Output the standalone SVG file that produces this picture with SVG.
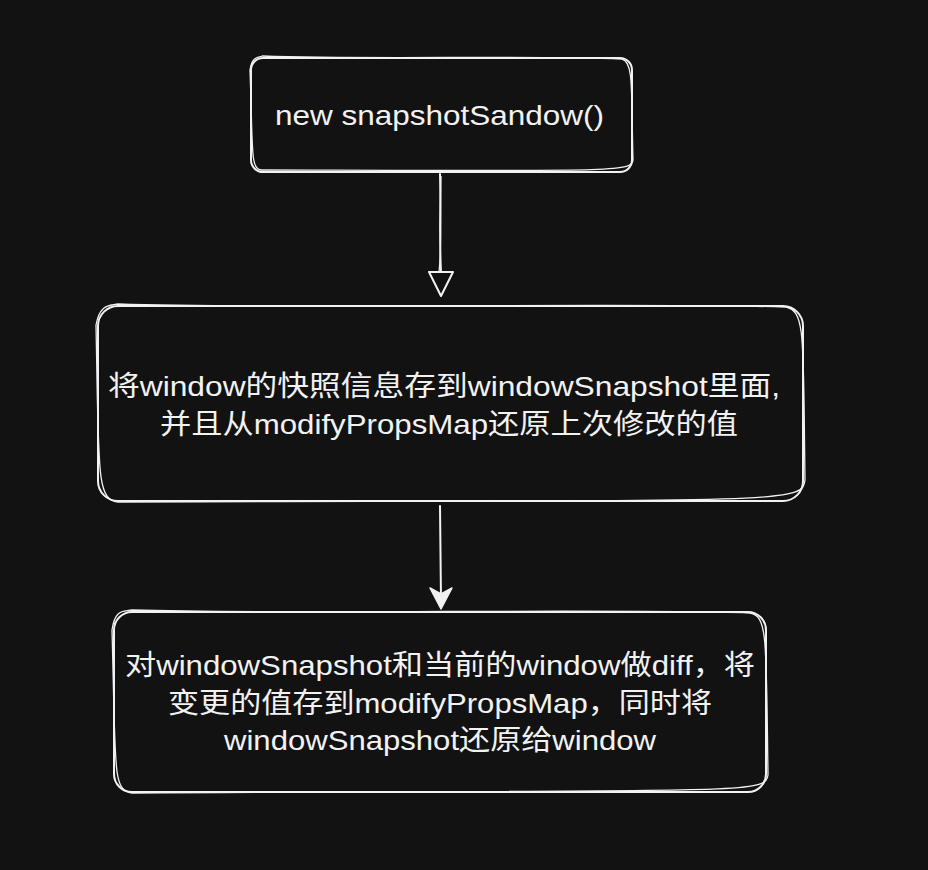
<svg xmlns="http://www.w3.org/2000/svg" width="928" height="870" viewBox="0 0 928 870">
<defs>
<style>
.bg{fill:#121212}
.box{fill:#121212;stroke:#f2f2f2;stroke-width:2}
.sk{fill:none;stroke:#f2f2f2;stroke-width:1.3}
.ln{fill:none;stroke:#f2f2f2;stroke-width:2;stroke-linecap:round}
.t{fill:#f2f2f2;font-family:"Liberation Sans","Noto Sans CJK SC",sans-serif;font-size:28px;text-anchor:middle}
</style>
</defs>
<rect class="bg" x="0" y="0" width="928" height="870"/>
<g id="connectors">
<path class="ln" d="M440 174 C441 210 439 230 441 272"/>
<path class="sk" d="M441 176 C440 215 442 245 439 272"/>
<polygon fill="none" stroke="#f2f2f2" stroke-width="2" stroke-linejoin="round" points="429,272 453,272 441,296"/>
<path class="ln" d="M440 506 L441 600"/>
<polygon fill="#f2f2f2" stroke="#f2f2f2" stroke-width="1.5" stroke-linejoin="round" points="430,588 441,594 452,588 441,609"/>
</g>
<g id="node1">
<rect class="box" x="251" y="58" width="381" height="114" rx="12"/>
<path class="sk" d="M262 56 C380 60 520 55 622 59 C634 62 631 90 633 160 C632 172 620 171 262 170 C250 171 253 150 250 70 C252 56 258 58 262 56"/>
<text class="t" x="439.5" y="125" textLength="329" lengthAdjust="spacingAndGlyphs">new  snapshotSandow()</text>
</g>
<g id="node2">
<rect class="box" x="98" y="306" width="705" height="195" rx="20"/>
<path class="sk" d="M118 304 C300 310 600 302 786 307 C806 311 803 340 805 480 C802 504 790 500 118 502 C96 500 99 470 96 325 C100 303 110 306 118 304"/>
<text class="t" x="444" y="396" textLength="672" lengthAdjust="spacingAndGlyphs">将window的快照信息存到windowSnapshot里面,</text>
<text class="t" x="449" y="434" textLength="578" lengthAdjust="spacingAndGlyphs">并且从modifyPropsMap还原上次修改的值</text>
</g>
<g id="node3">
<rect class="box" x="114" y="612" width="652" height="180" rx="18"/>
<path class="sk" d="M132 610 C300 615 600 608 750 613 C768 616 766 640 768 775 C765 794 752 790 132 793 C112 790 116 770 112 630 C115 608 124 612 132 610"/>
<text class="t" x="440" y="675" textLength="630" lengthAdjust="spacingAndGlyphs">对windowSnapshot和当前的window做diff，将</text>
<text class="t" x="440" y="713" textLength="544" lengthAdjust="spacingAndGlyphs">变更的值存到modifyPropsMap，同时将</text>
<text class="t" x="440" y="750" textLength="432" lengthAdjust="spacingAndGlyphs">windowSnapshot还原给window</text>
</g>
</svg>
